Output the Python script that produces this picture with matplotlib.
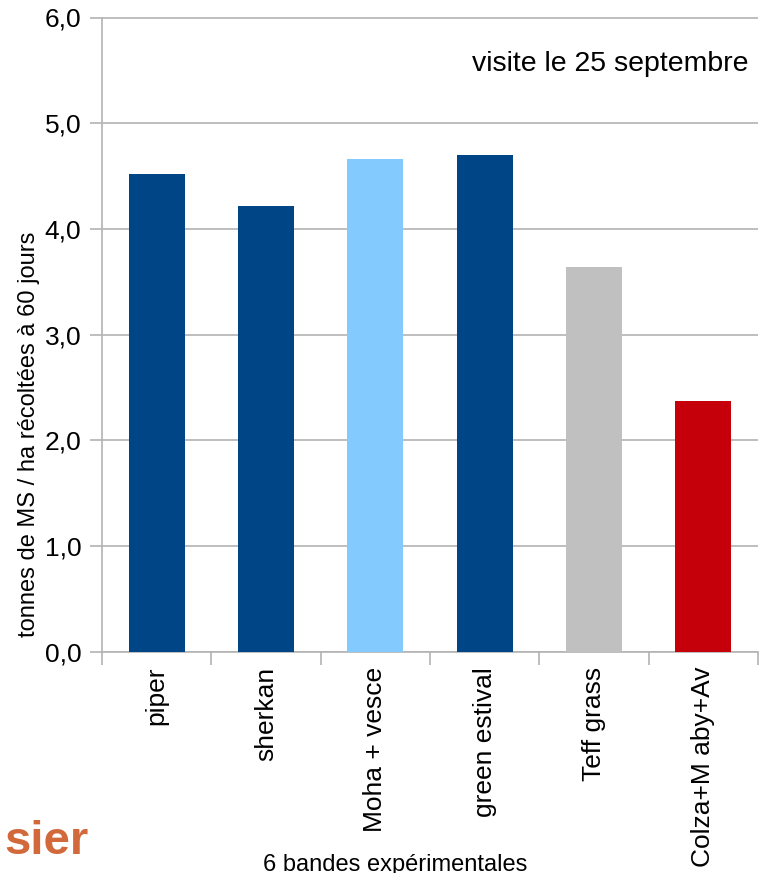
import matplotlib.pyplot as plt

plt.rcParams['font.family'] = ['Liberation Sans', 'DejaVu Sans']

categories = ["piper", "sherkan", "Moha + vesce", "green estival", "Teff grass", "Colza+M aby+Av"]
values = [4.52, 4.22, 4.66, 4.70, 3.64, 2.37]
colors = ["#004586", "#004586", "#83CAFF", "#004586", "#C0C0C0", "#C5000B"]
yticks = [0.0, 1.0, 2.0, 3.0, 4.0, 5.0, 6.0]
ytick_labels = ["0,0", "1,0", "2,0", "3,0", "4,0", "5,0", "6,0"]

fig = plt.figure(figsize=(7.59, 8.73), dpi=100)
ax = fig.add_axes([102 / 759, 1 - 651.7 / 873, 656 / 759, 634.2 / 873])

x = list(range(len(categories)))
ax.bar(x, values, width=0.51, color=colors, zorder=3)

ax.set_xlim(-0.5, len(categories) - 0.5)
ax.set_ylim(0, 6)
ax.set_yticks(yticks)
ax.set_yticklabels(ytick_labels, fontsize=19)
ax.yaxis.grid(True, color="#b3b3b3", linewidth=1.2, zorder=0)

# category labels centered, tick marks between categories
ax.set_xticks(x)
ax.set_xticklabels(categories, rotation=90, fontsize=19)
ax.tick_params(axis="x", length=0, pad=11)
ax.set_xticks([i + 0.5 for i in range(-1, len(categories))], minor=True)
ax.tick_params(axis="x", which="minor", length=9, color="#b3b3b3", width=1.2)
ax.tick_params(axis="y", length=9, color="#b3b3b3", width=1.2, pad=6)

for s in ["top", "right"]:
    ax.spines[s].set_visible(False)
for s in ["left", "bottom"]:
    ax.spines[s].set_color("#b3b3b3")
    ax.spines[s].set_linewidth(1.2)

# the axis title sits lower than the middle of the axis in the original
ax.set_ylabel("tonnes de MS / ha récoltées à 60 jours", fontsize=17)
ax.yaxis.set_label_coords((40 - 102) / 656, 0.343)

ax.text(0.985, 0.927, "visite le 25 septembre", transform=ax.transAxes,
        ha="right", va="center", fontsize=20.5)

fig.text(395 / 759, 1 - 854 / 873, "6 bandes expérimentales", ha="center", va="top", fontsize=17)
fig.text(4 / 759, 1 - 842 / 873, "sier", ha="left", va="center", fontsize=34,
         fontweight="bold", color="#D2693A")

fig.savefig("out.png", dpi=100)
